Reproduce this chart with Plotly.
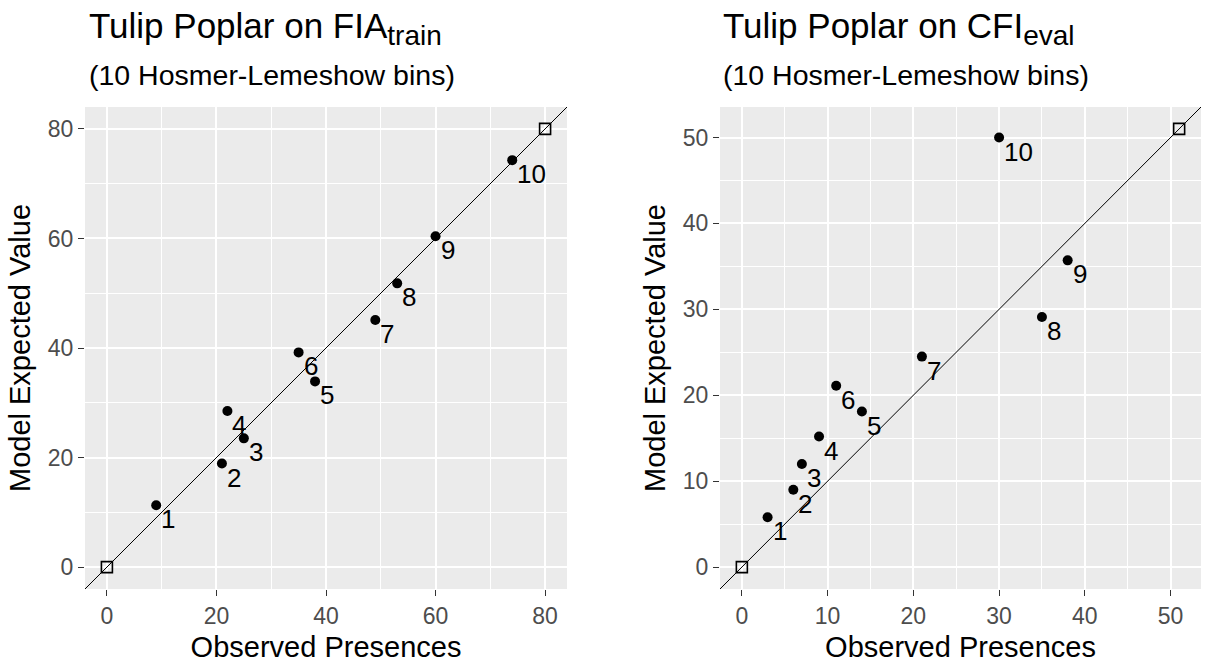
import plotly.graph_objects as go

# ---- data ----
bins = [1, 2, 3, 4, 5, 6, 7, 8, 9, 10]
fia_observed = [9, 21, 25, 22, 38, 35, 49, 53, 60, 74]
fia_expected = [11.3, 18.9, 23.5, 28.5, 33.9, 39.2, 45.1, 51.8, 60.4, 74.3]
cfi_observed = [3, 6, 7, 9, 14, 11, 21, 35, 38, 30]
cfi_expected = [5.8, 9.0, 12.0, 15.2, 18.1, 21.1, 24.5, 29.1, 35.7, 50.0]
fia_limit = 80
cfi_limit = 51
fia_ticks = [0, 20, 40, 60, 80]
cfi_ticks = [0, 10, 20, 30, 40, 50]
title_main = ["Tulip Poplar on FIA", "Tulip Poplar on CFI"]
title_sub = ["train", "eval"]
subtitle = "(10 Hosmer-Lemeshow bins)"

W, H = 1208, 667
FONT = "Liberation Sans, Arial, sans-serif"

fig = go.Figure()

panels = [
    dict(obs=fia_observed, exp=fia_expected, lim=fia_limit, ticks=fia_ticks, dt=20,
         xa="x", ya="y", xdom=[85 / W, 567 / W], tmain=title_main[0], tsub=title_sub[0], tx=87),
    dict(obs=cfi_observed, exp=cfi_expected, lim=cfi_limit, ticks=cfi_ticks, dt=10,
         xa="x2", ya="y2", xdom=[720 / W, 1201 / W], tmain=title_main[1], tsub=title_sub[1], tx=721),
]
ydom = [(H - 589) / H, (H - 107) / H]

for i, p in enumerate(panels):
    lo, hi = -0.05 * p["lim"], 1.05 * p["lim"]
    # identity line
    fig.add_trace(go.Scatter(x=[lo, hi], y=[lo, hi], mode="lines",
                             line=dict(color="black", width=1),
                             xaxis=p["xa"], yaxis=p["ya"], showlegend=False, hoverinfo="skip"))
    # reference squares
    fig.add_trace(go.Scatter(x=[0, p["lim"]], y=[0, p["lim"]], mode="markers",
                             marker=dict(symbol="square-open", size=11, color="black",
                                         line=dict(width=1.6, color="black")),
                             xaxis=p["xa"], yaxis=p["ya"], showlegend=False))
    # bin points
    fig.add_trace(go.Scatter(x=p["obs"], y=p["exp"], mode="markers",
                             marker=dict(symbol="circle", size=10, color="black"),
                             xaxis=p["xa"], yaxis=p["ya"], showlegend=False))
    for b, xo, ye in zip(bins, p["obs"], p["exp"]):
        fig.add_annotation(x=xo, y=ye, xref=p["xa"], yref=p["ya"], text=str(b),
                           showarrow=False, xanchor="left", yanchor="top",
                           xshift=3, yshift=3,
                           font=dict(family=FONT, size=26, color="black"))

    axis_common = dict(
        range=[lo, hi], showgrid=True, gridcolor="white", gridwidth=1.6,
        zeroline=False, showline=False, ticks="outside", ticklen=6, tickwidth=1.4,
        tickcolor="#333333", tickfont=dict(family=FONT, size=23, color="#4D4D4D"),
        tickmode="array", tickvals=p["ticks"],
        minor=dict(dtick=p["dt"] / 2, tick0=0, showgrid=True, gridcolor="white",
                   gridwidth=0.8, ticks=""),
    )
    xkey = "xaxis" if i == 0 else "xaxis2"
    ykey = "yaxis" if i == 0 else "yaxis2"
    fig.update_layout(**{
        xkey: dict(axis_common, domain=p["xdom"], anchor=p["ya"],
                   title=dict(text="Observed Presences", standoff=9,
                              font=dict(family=FONT, size=29, color="black"))),
        ykey: dict(axis_common, domain=ydom, anchor=p["xa"],
                   title=dict(text="Model Expected Value", standoff=8,
                              font=dict(family=FONT, size=29, color="black"))),
    })
    title_html = (p["tmain"] + "<sub><span style='font-size:28px'>" + p["tsub"]
                  + "</span></sub>")
    fig.add_annotation(x=p["tx"] / W, y=1 - 4 / H, xref="paper", yref="paper",
                       text=title_html, showarrow=False, xanchor="left", yanchor="top",
                       font=dict(family=FONT, size=35, color="black"))
    fig.add_annotation(x=(p["tx"]) / W, y=1 - 57 / H, xref="paper", yref="paper",
                       text=subtitle, showarrow=False, xanchor="left", yanchor="top",
                       font=dict(family=FONT, size=28.5, color="black"))

fig.update_layout(
    width=W, height=H, margin=dict(l=0, r=0, t=0, b=0),
    paper_bgcolor="white", plot_bgcolor="#EBEBEB",
    font=dict(family=FONT),
)

fig.write_html("out.html")
